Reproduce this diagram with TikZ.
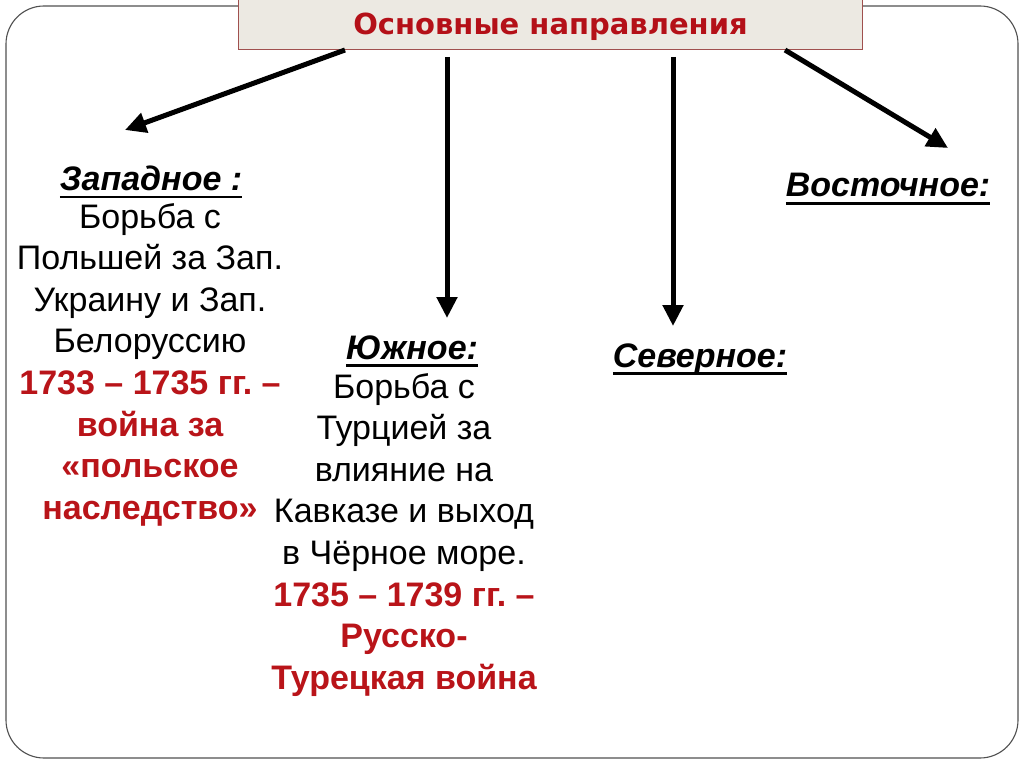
\documentclass[tikz,border=0pt]{standalone}
\usepackage{fontspec}
\setmainfont{Liberation Sans}
\newfontfamily\titlefont{DejaVu Sans}
\usetikzlibrary{arrows.meta}
\definecolor{warred}{RGB}{185,20,25}
\definecolor{titlered}{RGB}{180,16,24}
\definecolor{titlefill}{RGB}{236,233,226}
\definecolor{titleborder}{RGB}{160,80,78}
\definecolor{framegray}{RGB}{80,80,80}
\newcommand\redb[1]{\textcolor{warred}{\bfseries #1}}
\newsavebox\ulbox
\newcommand\ulx[1]{\sbox\ulbox{#1}\rlap{\rule[-7.5pt]{\wd\ulbox}{2.6pt}}\usebox\ulbox}
\tikzset{
  arr/.style={line width=5pt,-{Triangle[length=21pt,width=20pt]}},
  head/.style={font=\fontsize{34}{40}\selectfont\bfseries\itshape, inner sep=0pt, anchor=base},
  body/.style={font=\fontsize{34}{41.6}\selectfont\frenchspacing, align=center, inner sep=0pt, anchor=north},
  titlebox/.style={draw=titleborder, line width=1pt, fill=titlefill, anchor=north west,
    minimum width=624pt, minimum height=51pt, inner sep=0pt, text depth=0pt,
    font=\titlefont\bfseries\fontsize{29}{32}\selectfont, text=titlered},
}
\begin{document}
\begin{tikzpicture}[x=1pt,y=-1pt]
\useasboundingbox (0,0) rectangle (1024,767);
\fill[white] (0,0) rectangle (1024,767);
\draw[framegray, line width=1.1pt, rounded corners=38pt] (6,6) rectangle (1018,758);
\node[titlebox] (T) at (238,-2) {Основные направления};

\node[head] (west) at (151,191) {\ulx{Западное :}};
\node[body] (westtext) at (150,203) {Борьба с\\Польшей за Зап.\\Украину и Зап.\\Белоруссию\\
  \redb{1733 – 1735 гг. –}\\\redb{война за}\\\redb{«польское}\\\redb{наследство»}};

\node[head] (south) at (412,359) {\ulx{Южное:}};
\node[body] (southtext) at (404,373) {Борьба с\\Турцией за\\влияние на\\Кавказе и выход\\в Чёрное море.\\
  \redb{1735 – 1739 гг. –}\\\redb{Русско-}\\\redb{Турецкая война}};

\node[head] (north) at (700,367) {\ulx{Северное:}};
\node[head] (east) at (888,197) {\ulx{Восточное:}};

\coordinate (w0) at (345,50);  \coordinate (w1) at (125,130);
\coordinate (s0) at (447,57);  \coordinate (s1) at (447,318);
\coordinate (n0) at (673,57);  \coordinate (n1) at (673,326);
\coordinate (e0) at (785,50);  \coordinate (e1) at (948,148);
\draw[arr] (w0) -- (w1);
\draw[arr] (s0) -- (s1);
\draw[arr] (n0) -- (n1);
\draw[arr] (e0) -- (e1);
\end{tikzpicture}
\end{document}
